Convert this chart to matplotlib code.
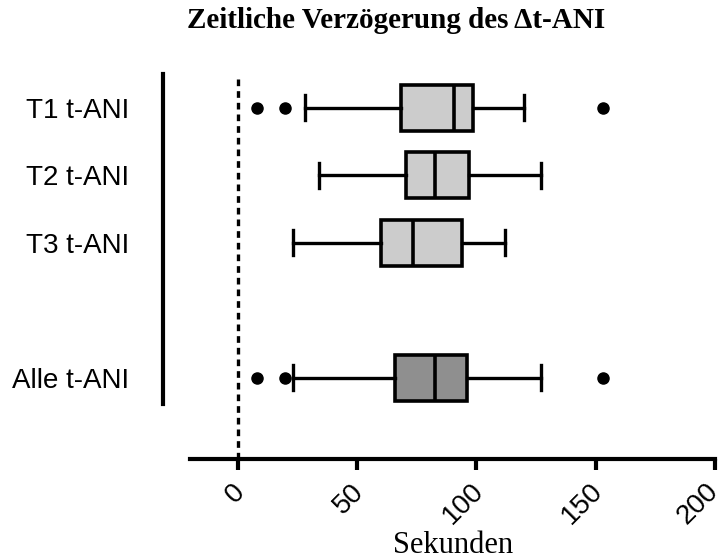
import matplotlib
matplotlib.use("Agg")
import matplotlib.pyplot as plt
from matplotlib.transforms import ScaledTranslation

# box statistics (seconds)
labels = ["T1 t-ANI", "T2 t-ANI", "T3 t-ANI", "Alle t-ANI"]
positions = [4, 3, 2, 0]
whislo = [28, 34, 23, 23]
q1 = [68.5, 70.5, 60, 66]
med = [90.5, 82.5, 73.5, 82.5]
q3 = [98.5, 97, 94, 96]
whishi = [120, 127, 112, 127]
fliers = [[8, 20, 153], [], [], [8, 20, 153]]
fills = ["#cccccc", "#cccccc", "#cccccc", "#8f8f8f"]
xticks = [0, 50, 100, 150, 200]

stats = []
for i in range(len(labels)):
    stats.append(dict(label=labels[i], whislo=whislo[i], q1=q1[i], med=med[i],
                      q3=q3[i], whishi=whishi[i], fliers=fliers[i]))

fig = plt.figure(figsize=(7.18, 5.6), dpi=100)
ax = fig.add_axes([190 / 718, 1 - 459 / 560, 525 / 718, 385 / 560])

lw = 2.6
bp = ax.bxp(stats, positions=positions, vert=False, widths=0.68,
            capwidths=0.37, patch_artist=True,
            boxprops=dict(linewidth=lw, edgecolor="black"),
            whiskerprops=dict(linewidth=2.4, color="black"),
            capprops=dict(linewidth=2.4, color="black"),
            medianprops=dict(linewidth=lw, color="black"),
            flierprops=dict(marker="o", markerfacecolor="black",
                            markeredgecolor="black", markersize=8))
for patch, c in zip(bp["boxes"], fills):
    patch.set_facecolor(c)

ax.axvline(0, color="black", linewidth=2.4, linestyle=(0, (2.0, 1.5)), zorder=0)

ax.set_xlim(-20, 200)
ax.set_ylim(-1.204, 4.5)

for s in ["top", "right"]:
    ax.spines[s].set_visible(False)
ax.spines["left"].set_position(("outward", 19.5))
ax.spines["left"].set_bounds(-0.39, 4.5)
ax.spines["left"].set_linewidth(3)
ax.spines["bottom"].set_linewidth(3)

ax.set_yticks(positions)
ax.set_yticklabels(labels, fontsize=20, fontname="Liberation Sans")
ax.tick_params(axis="y", length=0, pad=24)

ax.set_xticks(xticks)
ax.set_xticklabels([str(t) for t in xticks], fontsize=20,
                   fontname="Liberation Sans", rotation=45, ha="right",
                   va="top", rotation_mode="anchor")
ax.tick_params(axis="x", length=8, width=3, pad=6)
xlabs = ax.get_xticklabels()
for i, lab in enumerate(xlabs):
    dx = -6 if i < len(xlabs) - 1 else -10   # keep the last one inside the figure
    lab.set_transform(lab.get_transform() +
                      ScaledTranslation(dx / 100, 0, fig.dpi_scale_trans))

fig.text(453 / 718, 1 - 553 / 560, "Sekunden", fontsize=22,
         fontname="Liberation Serif", ha="center", va="baseline")

fig.text(396 / 718, 1 - 20 / 560, "Zeitliche Verzögerung des \u0394t-ANI",
         fontsize=21, fontname="Liberation Serif", fontweight="bold",
         ha="center", va="center")

fig.savefig("out.png", dpi=100)
